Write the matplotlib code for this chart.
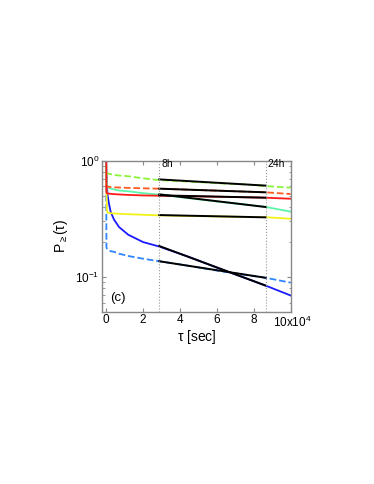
import numpy as np
import matplotlib
matplotlib.use("Agg")
import matplotlib.pyplot as plt
from matplotlib.ticker import LogLocator, NullFormatter, FixedLocator

plt.rcParams['font.family'] = ['Liberation Sans', 'DejaVu Sans']
plt.rcParams['mathtext.fontset'] = 'custom'
plt.rcParams['mathtext.rm'] = 'Liberation Sans'
plt.rcParams['mathtext.it'] = 'Liberation Sans:italic'
plt.rcParams['mathtext.default'] = 'regular'

# time grid (sec)
tau = [0, 150, 400, 800, 1600, 2500, 4300, 7000, 12000, 20000, 28800,
       45000, 60000, 75000, 86400, 100000]

green_dash = [0.80, 0.79, 0.78, 0.775, 0.77, 0.765, 0.755, 0.745, 0.735, 0.705, 0.68,
              0.66, 0.64, 0.625, 0.605, 0.585]
orange_dash = [0.62, 0.60, 0.598, 0.597, 0.595, 0.593, 0.59, 0.587, 0.583, 0.578, 0.574,
               0.562, 0.552, 0.542, 0.534, 0.516]
aqua = [1.0, 0.70, 0.63, 0.60, 0.585, 0.575, 0.565, 0.553, 0.545, 0.525, 0.51,
        0.475, 0.445, 0.42, 0.40, 0.364]
yellow = [0.9, 0.60, 0.37, 0.358, 0.355, 0.353, 0.351, 0.349, 0.346, 0.342, 0.338,
          0.334, 0.331, 0.328, 0.326, 0.316]
blue = [1.0, 0.78, 0.62, 0.50, 0.42, 0.36, 0.31, 0.268, 0.23, 0.199, 0.182,
        0.148, 0.120, 0.098, 0.084, 0.069]
blue_dash = [0.9, 0.18, 0.175, 0.172, 0.168, 0.166, 0.164, 0.158, 0.151, 0.143, 0.136,
             0.124, 0.113, 0.104, 0.098, 0.089]
red = [1.5, 0.53, 0.525, 0.522, 0.52, 0.518, 0.515, 0.512, 0.507, 0.502, 0.499,
       0.494, 0.489, 0.484, 0.48, 0.47]

# exponential fits between 8h and 24h (start, end values)
fit_t = [28800, 86400]
fit_green = [0.69, 0.61]
fit_orange = [0.574, 0.534]
fit_red = [0.503, 0.48]
fit_aqua = [0.513, 0.399]
fit_yellow = [0.34, 0.325]
fit_blue = [0.184, 0.084]
fit_blue_dash = [0.136, 0.098]

fig = plt.figure(figsize=(3.74, 4.84), dpi=100)
ax = fig.add_axes([0.274, 0.356, 0.503, 0.312])

lw = 1.3
ax.plot(tau, blue_dash, '--', color='#2f86ff', lw=lw)
ax.plot(tau, blue, '-', color='#1a1aff', lw=lw)
ax.plot(tau, yellow, '-', color='#f2f21a', lw=lw)
ax.plot(tau, aqua, '-', color='#5cf5a8', lw=lw)
ax.plot(tau, orange_dash, '--', color='#ff5a1f', lw=lw)
ax.plot(tau, green_dash, '--', color='#8cf53a', lw=lw)
ax.plot(tau, red, '-', color='#ff1a1a', lw=lw)

for f in [fit_green, fit_orange, fit_red, fit_aqua, fit_yellow, fit_blue, fit_blue_dash]:
    ax.plot(fit_t, f, '-', color='black', lw=1.4)

for t in fit_t:
    ax.axvline(t, color='#999999', ls=':', lw=0.8)

ax.set_yscale('log')
ax.set_xlim(-2000, 100000)
ax.set_ylim(0.05, 1)

ax.xaxis.set_major_locator(FixedLocator([0, 20000, 40000, 60000, 80000, 100000]))
ax.set_xticklabels(['0', '2', '4', '6', '8', ''])
ax.set_yticks([0.1, 1])
ax.set_yticklabels(['$10^{-1}$', '$10^{0}$'])
ax.yaxis.set_minor_locator(LogLocator(base=10, subs=np.arange(2, 10)))
ax.yaxis.set_minor_formatter(NullFormatter())

ax.tick_params(which='both', direction='in', top=True, right=True,
               labelsize=8.5, color='#888888', pad=2)
ax.tick_params(which='major', length=3)
ax.tick_params(which='minor', length=1.8)
for s in ax.spines.values():
    s.set_color('#888888')
    s.set_linewidth(1.0)

ax.annotate(r'10x10$^4$', xy=(100000, 0), xycoords=ax.get_xaxis_transform(),
            xytext=(1.5, -2), textcoords='offset points',
            ha='center', va='top', fontsize=8.5)

ax.text(29800, 0.93, '8h', fontsize=7.5, va='center', ha='left')
ax.text(87400, 0.93, '24h', fontsize=7.5, va='center', ha='left')
ax.text(0.04, 0.05, '(c)', transform=ax.transAxes, fontsize=9.5, va='bottom', ha='left')

ax.set_xlabel(r'$\tau$ [sec]', fontsize=10, labelpad=1)
ax.set_ylabel(r'P$_{\geq}$($\tau$)', fontsize=10, labelpad=4)

fig.savefig('out.png', dpi=100)
